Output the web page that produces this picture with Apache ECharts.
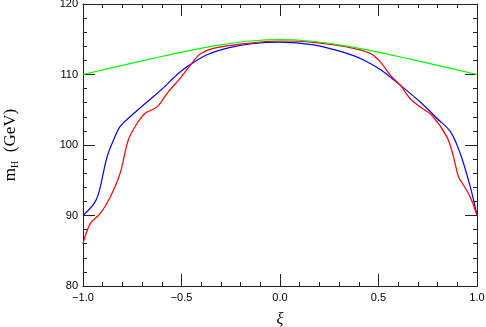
<!DOCTYPE html>
<html>
<head>
<meta charset="utf-8">
<script src="https://cdn.jsdelivr.net/npm/echarts@6/dist/echarts.min.js"></script>
<style>html,body{margin:0;padding:0;background:#fff}#c{width:486px;height:327px}</style>
</head>
<body>
<div id="c"></div>
<script>
const xTicks = [-1.0, -0.5, 0.0, 0.5, 1.0];
const yTicks = [80, 90, 100, 110, 120];

const blueX = [-1, -0.946, -0.921, -0.878, -0.845, -0.812, -0.761, -0.675, -0.592, -0.541, -0.506, -0.456, -0.371, -0.252, -0.135, 0, 0.17, 0.34, 0.424, 0.509, 0.61, 0.712, 0.796, 0.865, 0.915, 0.966, 1.0];
const blueY = [90.0, 91.6, 93.1, 98.3, 100.7, 102.6, 104.0, 106.1, 108.1, 109.5, 110.4, 111.4, 112.8, 113.85, 114.4, 114.6, 114.2, 113.0, 112.05, 110.7, 108.5, 106.1, 103.8, 101.9, 98.8, 94.05, 90.0];

const redX = [-1, -0.963, -0.912, -0.862, -0.812, -0.77, -0.726, -0.684, -0.624, -0.574, -0.506, -0.456, -0.405, -0.338, -0.169, 0, 0.17, 0.34, 0.458, 0.509, 0.56, 0.61, 0.66, 0.712, 0.771, 0.847, 0.881, 0.906, 0.932, 0.966, 1.0];
const redY = [86.0, 88.85, 90.3, 92.6, 95.95, 100.7, 103.05, 104.5, 105.4, 107.3, 109.5, 111.3, 112.9, 113.7, 114.4, 114.75, 114.56, 113.9, 113.0, 111.8, 109.9, 108.5, 106.6, 105.4, 104.2, 101.15, 98.3, 95.5, 94.3, 92.6, 90.0];

const greenX = [-1, -0.8, -0.6, -0.45, -0.3, -0.15, 0, 0.15, 0.3, 0.45, 0.6, 0.8, 1];
const greenY = [110, 111.3, 112.55, 113.45, 114.2, 114.75, 114.95, 114.75, 114.2, 113.45, 112.55, 111.3, 110];

function pairs(xs, ys) { return xs.map((x, i) => [x, ys[i]]); }

const axisCol = '#222';
const chart = echarts.init(document.getElementById('c'), null, {renderer: 'canvas'});
const baseX = {
  type: 'value', min: -1, max: 1, interval: 0.5,
  axisLine: {show: true, onZero: false, lineStyle: {color: axisCol, width: 1}},
  axisTick: {show: true, inside: true, length: 12, lineStyle: {color: axisCol, width: 1}},
  minorTick: {show: true, splitNumber: 5, length: 4, lineStyle: {color: axisCol, width: 1}},
  splitLine: {show: false}, minorSplitLine: {show: false}
};
const baseY = {
  type: 'value', min: 80, max: 120, interval: 10,
  axisLine: {show: true, onZero: false, lineStyle: {color: axisCol, width: 1}},
  axisTick: {show: true, inside: true, length: 12, lineStyle: {color: axisCol, width: 1}},
  minorTick: {show: true, splitNumber: 5, length: 4, lineStyle: {color: axisCol, width: 1}},
  splitLine: {show: false}, minorSplitLine: {show: false}
};
const lbl = {fontFamily: 'Liberation Sans', fontSize: 11, color: '#000'};

const option = {
  animation: false,
  backgroundColor: '#fff',
  grid: {left: 83, right: 9, top: 4, bottom: 41, containLabel: false, outerBoundsMode: 'none'},
  xAxis: [
    Object.assign({}, baseX, {
      position: 'bottom',
      axisLabel: Object.assign({}, lbl, {margin: 6,
        formatter: v => { const t = xTicks.find(k => Math.abs(k - v) < 1e-9); return t === undefined ? '' : t.toFixed(1).replace('-', '\u2212'); }}),
      name: 'ξ', nameLocation: 'middle', nameGap: 26,
      nameTextStyle: {fontFamily: 'Liberation Serif', fontStyle: 'italic', fontSize: 16, color: '#000'}
    }),
    Object.assign({}, baseX, {position: 'top', axisLabel: {show: false}})
  ],
  yAxis: [
    Object.assign({}, baseY, {
      position: 'left',
      axisLabel: Object.assign({}, lbl, {margin: 5,
        formatter: v => { const t = yTicks.find(k => Math.abs(k - v) < 1e-9); return t === undefined ? '' : String(t); }}),
      name: '{a|m}{s|H}{a|  (GeV)}', nameLocation: 'middle', nameGap: 62, nameRotate: 90,
      nameTextStyle: {
        rich: {
          a: {fontFamily: 'Liberation Serif', fontSize: 17, color: '#000', lineHeight: 20},
          s: {fontFamily: 'Liberation Serif', fontSize: 10, color: '#000', lineHeight: 20, padding: [8, 0, 0, 0]}
        }
      }
    }),
    Object.assign({}, baseY, {position: 'right', axisLabel: {show: false}})
  ],
  series: [
    {type: 'line', data: pairs(blueX, blueY), showSymbol: false, smooth: 0.35,
     lineStyle: {color: '#0000ff', width: 1.2}},
    {type: 'line', data: pairs(redX, redY), showSymbol: false, smooth: 0.35,
     lineStyle: {color: '#ff0000', width: 1.2}},
    {type: 'line', data: pairs(greenX, greenY), showSymbol: false, smooth: 0.35,
     lineStyle: {color: '#00ff00', width: 1.2}}
  ]
};
chart.setOption(option);
</script>
</body>
</html>
